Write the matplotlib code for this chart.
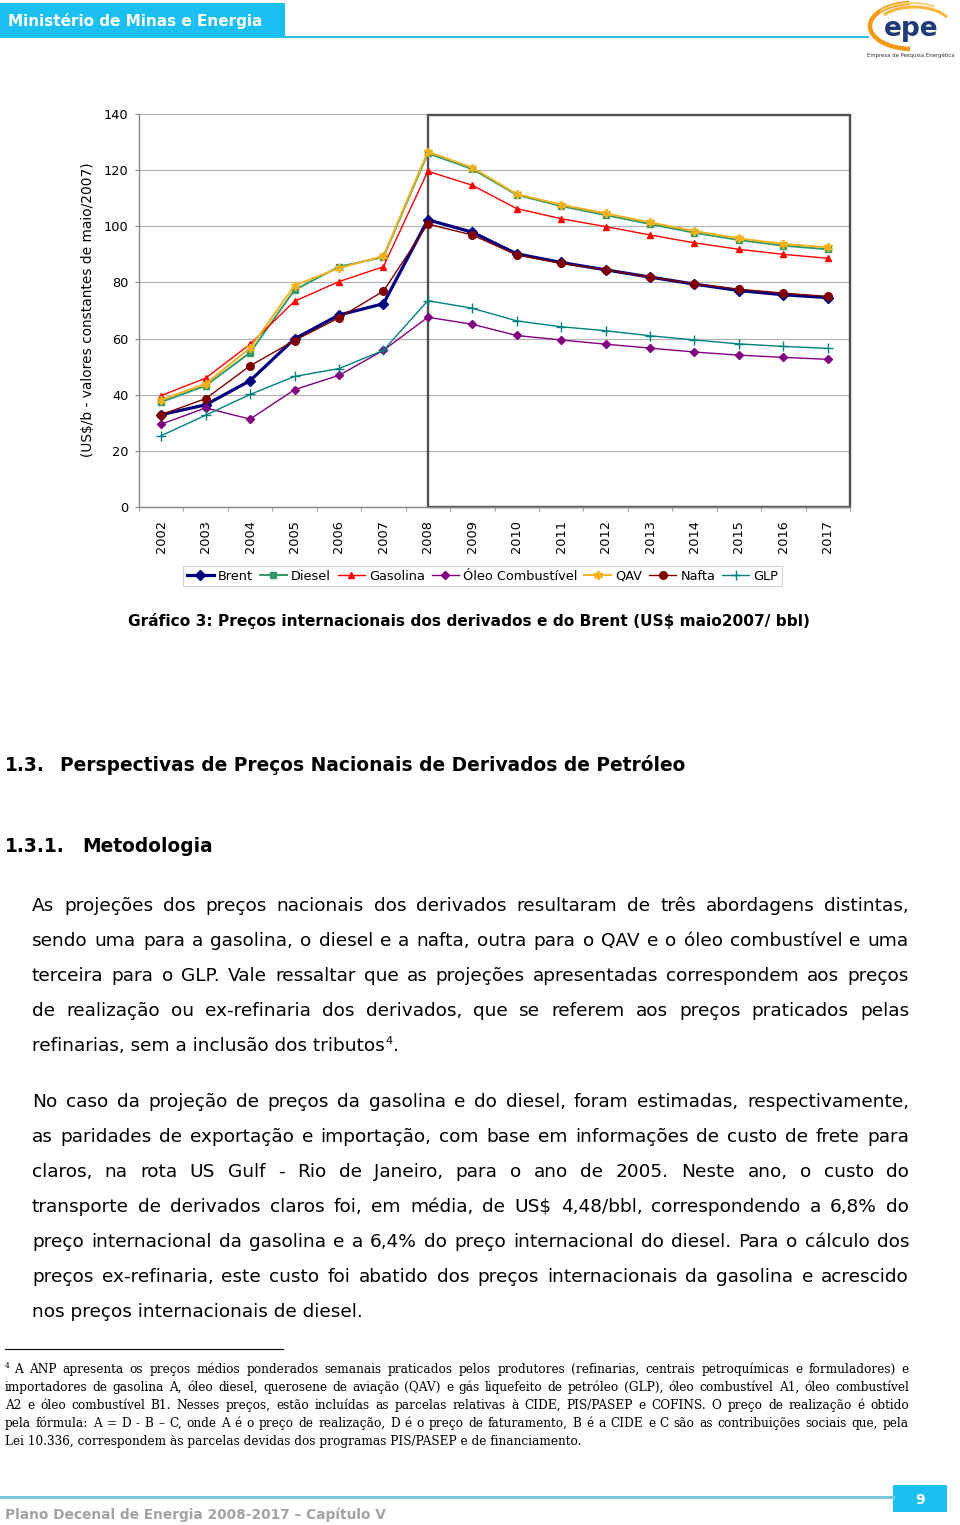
import matplotlib
matplotlib.use('Agg')
import matplotlib.pyplot as plt
from matplotlib.patches import Rectangle, Arc
from matplotlib.font_manager import FontProperties
import numpy as np

# ---------------- data ----------------
years = [str(y) for y in range(2002, 2018)]
brent    = [32.9, 36.4, 45.0, 59.9, 68.4, 72.4, 102.3, 97.9, 90.2, 87.1, 84.5, 81.9, 79.4, 77.1, 75.6, 74.6]
diesel   = [37.4, 43.2, 55.0, 77.3, 85.6, 89.0, 126.0, 120.4, 111.2, 107.2, 104.0, 100.8, 97.7, 95.1, 93.1, 91.8]
gasolina = [39.7, 45.9, 58.0, 73.3, 80.3, 85.6, 119.6, 114.6, 106.3, 102.7, 99.9, 96.9, 94.1, 91.8, 90.0, 88.6]
oleo     = [29.5, 35.3, 31.3, 41.8, 46.9, 55.8, 67.6, 65.1, 61.1, 59.5, 58.0, 56.6, 55.2, 54.1, 53.3, 52.6]
qav      = [38.2, 43.9, 56.6, 78.9, 85.1, 89.4, 126.6, 120.9, 111.5, 107.7, 104.6, 101.4, 98.3, 95.7, 93.7, 92.5]
nafta    = [32.9, 38.6, 50.3, 59.3, 67.4, 76.9, 100.8, 96.9, 89.8, 86.8, 84.5, 81.9, 79.5, 77.6, 76.2, 75.0]
glp      = [25.4, 32.7, 40.1, 46.5, 49.3, 55.8, 73.5, 70.8, 66.3, 64.2, 62.8, 61.0, 59.5, 58.1, 57.2, 56.5]
series_names = ['Brent', 'Diesel', 'Gasolina', 'Óleo Combustível', 'QAV', 'Nafta', 'GLP']
series_vals = [brent, diesel, gasolina, oleo, qav, nafta, glp]
yticks = [0, 20, 40, 60, 80, 100, 120, 140]
ylabel = '(US$/b - valores constantes de maio/2007)'
caption = 'Gráfico 3: Preços internacionais dos derivados e do Brent (US$ maio2007/ bbl)'

header_title = 'Ministério de Minas e Energia'
sec_num, sec_title = '1.3.', 'Perspectivas de Preços Nacionais de Derivados de Petróleo'
sub_num, sub_title = '1.3.1.', 'Metodologia'
par1 = [
    'As projeções dos preços nacionais dos derivados resultaram de três abordagens distintas,',
    'sendo uma para a gasolina, o diesel e a nafta, outra para o QAV e o óleo combustível e uma',
    'terceira para o GLP. Vale ressaltar que as projeções apresentadas correspondem aos preços',
    'de realização ou ex-refinaria dos derivados, que se referem aos preços praticados pelas',
]
par1_last = 'refinarias, sem a inclusão dos tributos'
par2 = [
    'No caso da projeção de preços da gasolina e do diesel, foram estimadas, respectivamente,',
    'as paridades de exportação e importação, com base em informações de custo de frete para',
    'claros, na rota US Gulf - Rio de Janeiro, para o ano de 2005. Neste ano, o custo do',
    'transporte de derivados claros foi, em média, de US$ 4,48/bbl, correspondendo a 6,8% do',
    'preço internacional da gasolina e a 6,4% do preço internacional do diesel. Para o cálculo dos',
    'preços ex-refinaria, este custo foi abatido dos preços internacionais da gasolina e acrescido',
    'nos preços internacionais de diesel.',
]
foot = [
    'A ANP apresenta os preços médios ponderados semanais praticados pelos produtores (refinarias, centrais petroquímicas e formuladores) e',
    'importadores de gasolina A, óleo diesel, querosene de aviação (QAV) e gás liquefeito de petróleo (GLP), óleo combustível A1, óleo combustível',
    'A2 e óleo combustível B1. Nesses preços, estão incluídas as parcelas relativas à CIDE, PIS/PASEP e COFINS. O preço de realização é obtido',
    'pela fórmula: A = D - B – C, onde A é o preço de realização, D é o preço de faturamento, B é a CIDE e C são as contribuições sociais que, pela',
    'Lei 10.336, correspondem às parcelas devidas dos programas PIS/PASEP e de financiamento.',
]
footer_text = 'Plano Decenal de Energia 2008-2017 – Capítulo V'
page_no = '9'

# ---------------- figure ----------------
W, H = 960, 1525
fig = plt.figure(figsize=(9.6, 15.25), dpi=100)
bg = fig.add_axes([0, 0, 1, 1], zorder=0)
bg.set_xlim(0, W)
bg.set_ylim(H, 0)
bg.axis('off')
renderer = fig.canvas.get_renderer()

SANS = 'DejaVu Sans'
SERIF = 'DejaVu Serif'


def tw(s, fp):
    w, h, d = renderer.get_text_width_height_descent(s, fp, ismath=False)
    return w


def fit(s, family, weight, target, base=10.0):
    fp = FontProperties(family=family, weight=weight, size=base)
    return base * target / tw(s, fp)


def fprop(family, weight, size):
    return FontProperties(family=family, weight=weight, size=size)


def justify(line, x0, x1, y, fp, color='black'):
    words = line.split(' ')
    widths = [tw(w, fp) for w in words]
    gap = (x1 - x0 - sum(widths)) / max(len(words) - 1, 1)
    x = x0
    for w, ww in zip(words, widths):
        bg.text(x, y, w, fontproperties=fp, ha='left', va='baseline', color=color)
        x += ww + gap


# ---------------- header ----------------
cyan = '#1BC0F0'
bg.add_patch(Rectangle((0, 3), 285, 35, facecolor=cyan, edgecolor='none'))
bg.plot([285, 868], [37, 37], color='#35BDE3', lw=1.5)
s = fit(header_title, SANS, 'bold', 255)
bg.text(8, 26, header_title, fontproperties=fprop(SANS, 'bold', s), color='white', ha='left', va='baseline')
# logo
bg.add_patch(Arc((912, 26), 84, 46, theta1=95, theta2=265, color='#F29A16', lw=3.2))
bg.add_patch(Arc((914, 26), 74, 38, theta1=200, theta2=345, color='#F6B73C', lw=2.2))
bg.add_patch(Arc((912, 26), 84, 46, theta1=205, theta2=320, color='#FAD27E', lw=1.5))
bg.text(911, 29, 'epe', fontproperties=fprop(SANS, 'bold', 19), color='#1E3A78', ha='center', va='center')
bg.text(911, 55, 'Empresa de Pesquisa Energética', fontproperties=fprop(SANS, 'normal', 3.9),
        color='#333333', ha='center', va='center')

# ---------------- chart ----------------
left, right, top, bottom = 139, 850, 114, 507
ax = fig.add_axes([left / W, 1 - bottom / H, (right - left) / W, (bottom - top) / H], zorder=2)
ax.patch.set_alpha(0)
x = np.arange(len(years))
styles = [
    dict(color='#000080', marker='D', ms=5.5, lw=2.3),
    dict(color='#339966', marker='s', ms=4.5, lw=1.4),
    dict(color='#FF0000', marker='^', ms=5.0, lw=1.0),
    dict(color='#800080', marker='D', ms=3.8, lw=1.0),
    dict(color='#F2B21E', marker=(6, 2, 0), ms=6.5, lw=1.4, mew=1.3),
    dict(color='#800000', marker='o', ms=5.5, lw=1.0),
    dict(color='#008080', marker='+', ms=7, lw=1.0, mew=1.0),
]
for name, vals, st in zip(series_names, series_vals, styles):
    ax.plot(x, vals, label=name, **st)

ax.set_xlim(-0.5, len(years) - 0.5)
ax.set_ylim(0, 140)
ax.set_yticks(yticks)
ax.set_xticks(x)
ax.set_xticklabels(years, rotation=90)
ax.set_xticks(np.arange(-0.5, len(years)), minor=True)
tick_fs = 9.3
ax.tick_params(axis='x', which='major', length=0, pad=9.5, labelsize=tick_fs)
ax.tick_params(axis='x', which='minor', length=3, color='#888888', direction='out')
ax.tick_params(axis='y', which='major', length=3, color='#888888', pad=4.5, labelsize=tick_fs)
ax.yaxis.grid(True, color='#B4B4B4', lw=0.9)
ax.set_axisbelow(True)
for sp in ['top', 'right']:
    ax.spines[sp].set_visible(False)
for sp in ['left', 'bottom']:
    ax.spines[sp].set_color('#888888')
    ax.spines[sp].set_linewidth(1.0)
ax.add_patch(Rectangle((6.0, 0), 9.5, 139.6, fill=False, edgecolor='#505050', lw=1.7, clip_on=False, zorder=1))

s = fit(ylabel, SANS, 'normal', 294)
bg.text(88, 310, ylabel, fontproperties=fprop(SANS, 'normal', s), rotation=90, ha='center', va='center')

leg = ax.legend(loc='center', bbox_to_anchor=(482.5 / W, 1 - 576 / H), bbox_transform=fig.transFigure,
                ncol=7, fontsize=tick_fs, frameon=True, fancybox=False, edgecolor='#C8C8C8',
                borderpad=0.25, handlelength=2.1, handletextpad=0.3, columnspacing=0.55,
                borderaxespad=0)
leg.get_frame().set_linewidth(0.8)

s = fit(caption, SANS, 'bold', 684)
bg.text(128, 626, caption, fontproperties=fprop(SANS, 'bold', s), ha='left', va='baseline')

# ---------------- headings ----------------
s = fit(sec_title, SANS, 'bold', 628)
fh = fprop(SANS, 'bold', s)
bg.text(5, 771, sec_num, fontproperties=fh, ha='left', va='baseline')
bg.text(60, 771, sec_title, fontproperties=fh, ha='left', va='baseline')
bg.text(5, 852, sub_num, fontproperties=fh, ha='left', va='baseline')
bg.text(82, 852, sub_title, fontproperties=fh, ha='left', va='baseline')

# ---------------- body ----------------
bs = fit(par2[-1], SANS, 'normal', 331)
fb = fprop(SANS, 'normal', bs)
x0, x1 = 32, 909
y = 911
for line in par1:
    justify(line, x0, x1, y, fb)
    y += 35
bg.text(x0, y, par1_last, fontproperties=fb, ha='left', va='baseline')
xx = x0 + tw(par1_last, fb)
fsup = fprop(SANS, 'normal', bs * 0.6)
bg.text(xx + 1, y - 7, '4', fontproperties=fsup, ha='left', va='baseline')
bg.text(xx + 1 + tw('4', fsup), y, '.', fontproperties=fb, ha='left', va='baseline')

y = 1107
for line in par2[:-1]:
    justify(line, x0, x1, y, fb)
    y += 35
bg.text(x0, y, par2[-1], fontproperties=fb, ha='left', va='baseline')

# ---------------- footnote ----------------
bg.plot([5, 283], [1349, 1349], color='black', lw=0.8)
fsz = fit(foot[-1], SERIF, 'normal', 581)
ff = fprop(SERIF, 'normal', fsz)
bg.text(5, 1368, '4', fontproperties=fprop(SERIF, 'normal', fsz * 0.6), ha='left', va='baseline')
y = 1373
justify(foot[0], 14, 909, y, ff)
for line in foot[1:-1]:
    y += 18
    justify(line, 5, 909, y, ff)
y += 18
bg.text(5, y, foot[-1], fontproperties=ff, ha='left', va='baseline')

# ---------------- footer ----------------
bg.plot([0, 893], [1497, 1497], color='#7CC8DA', lw=2.2)
bg.add_patch(Rectangle((893, 1485), 54, 27, facecolor=cyan, edgecolor='none'))
bg.text(920, 1500, page_no, fontproperties=fprop(SANS, 'bold', 10), color='white', ha='center', va='center')
s = fit(footer_text, SANS, 'bold', 383)
bg.text(5, 1519, footer_text, fontproperties=fprop(SANS, 'bold', s), color='#A3A3A3', ha='left', va='baseline')

fig.savefig('out.png', dpi=100)
